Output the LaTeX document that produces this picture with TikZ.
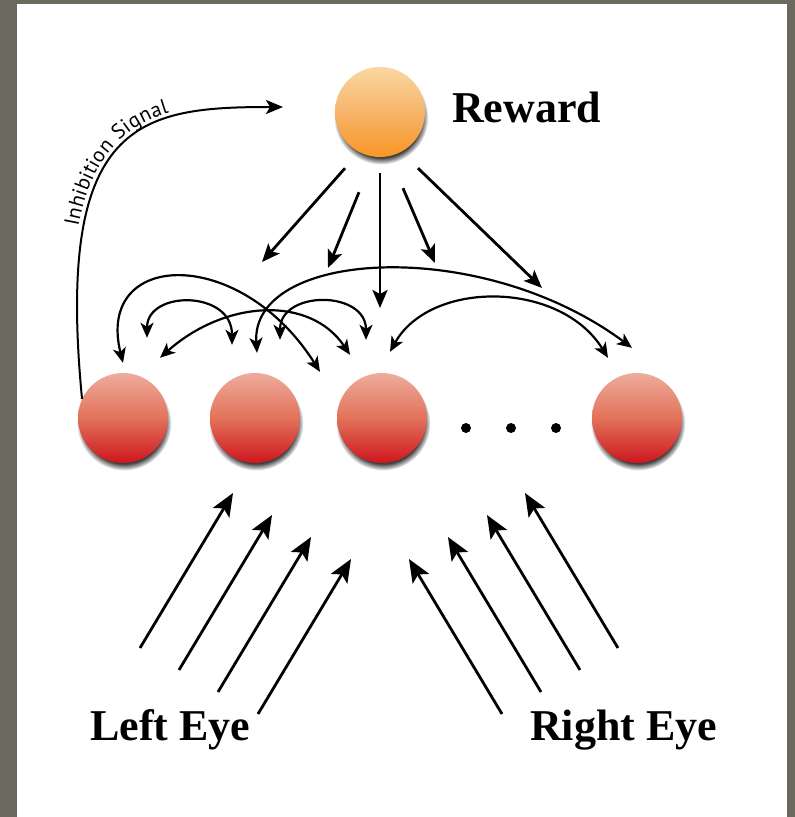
\documentclass[tikz,border=0pt]{standalone}
\usepackage{fontspec}
\setmainfont{Liberation Serif}
\newfontfamily\inhfont{PT Sans}
\usepackage{xcolor}
\usepackage{tikz}
\usetikzlibrary{arrows.meta,shadows,decorations.text}

\definecolor{framegray}{RGB}{106,107,94}
\definecolor{nrtop}{RGB}{238,172,156}
\definecolor{nrmid}{RGB}{226,114,90}
\definecolor{nrbot}{RGB}{206,22,30}
\definecolor{rwtop}{RGB}{250,216,162}
\definecolor{rwmid}{RGB}{247,180,106}
\definecolor{rwbot}{RGB}{248,150,36}
\newcommand{\inhtxt}{\inhfont\fontsize{21}{24}\selectfont}

\begin{document}
\begin{tikzpicture}[
  x=1pt, y=1pt,
  >={Stealth[length=18pt,width=15pt,inset=4pt]},
  neuron/.style={circle, minimum size=90pt, inner sep=0pt,
    top color=nrtop, bottom color=nrbot, middle color=nrmid,
    circular drop shadow={shadow xshift=1pt, shadow yshift=-5pt, shadow scale=1.05, fill=black!75}},
  reward/.style={neuron, top color=rwtop, bottom color=rwbot, middle color=rwmid},
  lbl/.style={font=\fontsize{44}{50}\selectfont\bfseries, inner sep=0pt},
  fb/.style={->, line width=2.8pt},
  lat/.style={<->, line width=2.2pt, >={Stealth[length=15pt,width=13pt,inset=4pt]}},
  eye/.style={->, line width=2.8pt, >={Stealth[length=23pt,width=19pt,inset=5pt]}},
  inh/.style={->, line width=2pt, >={Stealth[length=17pt,width=14pt,inset=4pt]}},
]
% frame
\fill[framegray] (0,0) rectangle (795,-817);
\useasboundingbox (0,0) rectangle (795,-817);
\fill[white] (17,-4) rectangle (787,-817);

% nodes
\node[reward] (rew) at (380,-112) {};
\node[lbl, anchor=base west] (rewl) at (452,-122) {Reward};
\node[neuron] (n1) at (123,-418) {};
\node[neuron] (n2) at (255,-418) {};
\node[neuron] (n3) at (382,-418) {};
\node[neuron] (n4) at (637,-418) {};
\fill (466,-428) circle (5) (511,-428) circle (5) (556,-428) circle (5);
\node[lbl, anchor=base west] (lefteye) at (90,-740) {Left Eye};
\node[lbl, anchor=base west] (righteye) at (530,-740) {Right Eye};

% free ends
\coordinate (f1) at (262,-262);
\coordinate (f2) at (328,-268);
\coordinate (f3) at (380,-308);
\coordinate (f4) at (435,-263);
\coordinate (f5) at (542,-288);
\coordinate (inh) at (283,-107);
\coordinate (le1) at (140,-648);
\coordinate (le2) at (179,-670);
\coordinate (le3) at (218,-692);
\coordinate (le4) at (258,-714);
\coordinate (re1) at (618,-648);
\coordinate (re2) at (580,-670);
\coordinate (re3) at (541,-692);
\coordinate (re4) at (502,-714);

% inhibition signal back to the reward
\draw[inh, postaction={decorate, decoration={text along path,
    text={|\inhtxt|Inhibition Signal}, raise=5pt, text align={left indent=172pt}}}]
  (n1.155) .. controls (55,-120) and (140,-107) .. (inh);

% reward feedback
\draw[fb] ([xshift=-35pt,yshift=-11pt]rew.south) -- (f1);
\draw[fb] ([xshift=-21pt,yshift=-35pt]rew.south) -- (f2);
\draw[fb] ([yshift=-16pt]rew.south) -- (f3);
\draw[fb] ([xshift=23pt,yshift=-31pt]rew.south) -- (f4);
\draw[fb] ([xshift=38pt,yshift=-11pt]rew.south) -- (f5);

% lateral connections
\draw[lat] ([yshift=10pt]n1.north) .. controls (95,-250) and (240,-245) .. ([xshift=-62pt,yshift=1pt]n3.north);
\draw[lat] ([xshift=24pt,yshift=35pt]n1.north) .. controls (147,-290) and (232,-290) .. ([xshift=-23pt,yshift=28pt]n2.north);
\draw[lat] ([xshift=37pt,yshift=15pt]n1.north) .. controls (225,-300) and (310,-295) .. ([xshift=-32pt,yshift=18pt]n3.north);
\draw[lat] ([xshift=2pt,yshift=20pt]n2.north) .. controls (250,-250) and (480,-235) .. ([xshift=-5pt,yshift=25pt]n4.north);
\draw[lat] ([xshift=25pt,yshift=33pt]n2.north) .. controls (280,-290) and (366,-290) .. ([xshift=-16pt,yshift=33pt]n3.north);
\draw[lat] ([xshift=8pt,yshift=21pt]n3.north) .. controls (430,-280) and (560,-280) .. ([xshift=-29pt,yshift=15pt]n4.north);

% eye inputs
\draw[eye] (le1) -- ++(93,155);
\draw[eye] (le2) -- ++(93,155);
\draw[eye] (le3) -- ++(93,155);
\draw[eye] (le4) -- ++(93,155);
\draw[eye] (re1) -- ++(-93,155);
\draw[eye] (re2) -- ++(-93,155);
\draw[eye] (re3) -- ++(-93,155);
\draw[eye] (re4) -- ++(-93,155);
\end{tikzpicture}
\end{document}
